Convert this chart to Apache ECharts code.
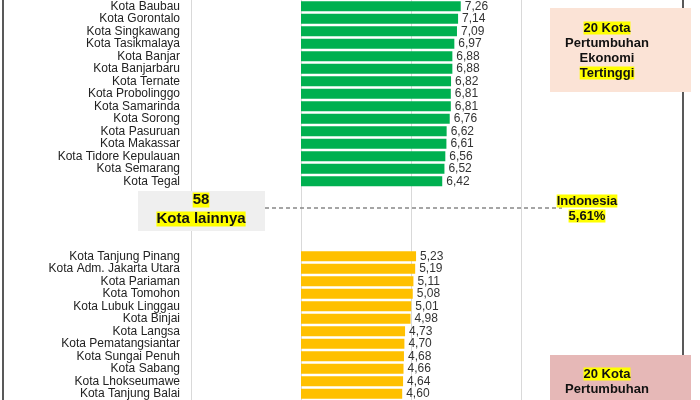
<!DOCTYPE html>
<html><head><meta charset="utf-8">
<script src="https://cdn.jsdelivr.net/npm/echarts@6/dist/echarts.min.js"></script>
<style>html,body{margin:0;padding:0;background:#fff}#c{width:700px;height:400px}</style>
</head><body><div id="c"></div>
<script>
const topCities = ["Kota Baubau","Kota Gorontalo","Kota Singkawang","Kota Tasikmalaya","Kota Banjar","Kota Banjarbaru","Kota Ternate","Kota Probolinggo","Kota Samarinda","Kota Sorong","Kota Pasuruan","Kota Makassar","Kota Tidore Kepulauan","Kota Semarang","Kota Tegal"];
const topValues = [7.26,7.14,7.09,6.97,6.88,6.88,6.82,6.81,6.81,6.76,6.62,6.61,6.56,6.52,6.42];
const bottomCities = ["Kota Tanjung Pinang","Kota Adm. Jakarta Utara","Kota Pariaman","Kota Tomohon","Kota Lubuk Linggau","Kota Binjai","Kota Langsa","Kota Pematangsiantar","Kota Sungai Penuh","Kota Sabang","Kota Lhokseumawe","Kota Tanjung Balai"];
const bottomValues = [5.23,5.19,5.11,5.08,5.01,4.98,4.73,4.70,4.68,4.66,4.64,4.60];
const gapCount = 5;

const gap = Array.from({length: gapCount}, (_, i) => ' '.repeat(i + 1));
const cats = topCities.concat(gap, bottomCities);
const greenData = topValues.concat(gap.map(() => null), bottomCities.map(() => null));
const yellowData = topCities.map(() => null).concat(gap.map(() => null), bottomValues);
const F = "'Liberation Sans Narrow','Liberation Sans',Arial,sans-serif";
const lbl = {show:true, position:'right', distance:4, color:'#333', fontSize:12, fontFamily:F,
  formatter: p => p.value == null ? '' : p.value.toFixed(2).replace('.', ',')};
const chart = echarts.init(document.getElementById('c'));
const mk = (x, y, t, fs, bg) => ({type:'text', x:x, y:y, z:20, style:{text:t, font:'bold '+fs+'px "Liberation Sans",Arial', fill:'#111', backgroundColor:bg || null, align:'center', verticalAlign:'middle'}});
chart.setOption({
  animation:false,
  grid:{left:191, top:-5, width:440, height:409},
  xAxis:{type:'value', min:-5, max:15, interval:5, axisLabel:{show:false}, axisLine:{show:false}, axisTick:{show:false},
    splitLine:{lineStyle:{color:['#d9d9d9','#d9d9d9','#d9d9d9','#d9d9d9','transparent']}}},
  yAxis:{type:'category', data:cats, inverse:true, axisLine:{show:false}, axisTick:{show:false},
    axisLabel:{interval:0, color:'#222', fontSize:12, fontFamily:F, margin:11}},
  series:[
    {type:'bar', data:greenData, barWidth:10, barGap:'-100%', itemStyle:{color:'#00b050'}, label:lbl},
    {type:'bar', data:yellowData, barWidth:10, itemStyle:{color:'#ffc000'}, label:lbl}
  ],
  graphic:[
    {type:'line', shape:{x1:3,y1:0,x2:3,y2:400}, style:{stroke:'#222', lineWidth:1.5}},
    {type:'line', shape:{x1:683,y1:0,x2:683,y2:400}, style:{stroke:'#222', lineWidth:1.5}},
    {type:'rect', shape:{x:550,y:8,width:141,height:84}, style:{fill:'#fbe3d6'}, z:10},
    {type:'rect', shape:{x:550,y:355,width:141,height:50}, style:{fill:'#e6b8b7'}, z:10},
    {type:'rect', shape:{x:138,y:191,width:127,height:40}, style:{fill:'#efefef'}, z:10},
    {type:'line', shape:{x1:265,y1:208,x2:562,y2:208}, style:{stroke:'#888', lineWidth:1.5, lineDash:[4,3]}, z:10},
    mk(607, 28, '20 Kota', 13, '#ffff00'), mk(607, 43, 'Pertumbuhan', 13), mk(607, 58, 'Ekonomi', 13), mk(607, 73, 'Tertinggi', 13, '#ffff00'),
    mk(607, 374, '20 Kota', 13, '#ffff00'), mk(607, 389, 'Pertumbuhan', 13),
    mk(201, 200, '58', 15, '#ffff00'), mk(201, 219, 'Kota lainnya', 15, '#ffff00'),
    mk(587, 201, 'Indonesia', 13, '#ffff00'), mk(587, 216, '5,61%', 13, '#ffff00')
  ]
});
</script></body></html>
